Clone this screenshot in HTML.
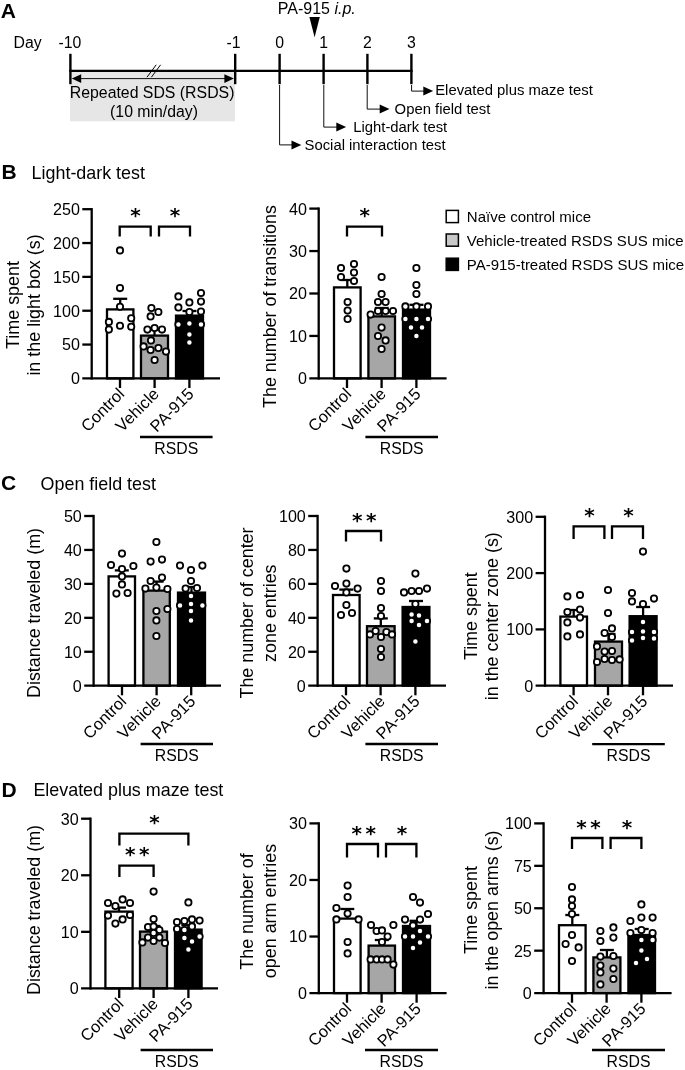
<!DOCTYPE html>
<html lang="en">
<head>
<meta charset="utf-8">
<title>PA-915 RSDS behavioural tests</title>
<style>
html,body{margin:0;padding:0;background:#fff;}
body{width:685px;height:1070px;overflow:hidden;}
svg{display:block;will-change:transform;}
svg text{font-family:"Liberation Sans", sans-serif;fill:#000;}
</style>
</head>
<body>
<svg width="685" height="1070" viewBox="0 0 685 1070">
<rect width="685" height="1070" fill="#fff"/>
<text x="0.70" y="17.70" font-size="21" font-weight="bold">A</text>
<text x="13.60" y="48.00" font-size="15.8">Day</text>
<rect x="70" y="71.5" width="165" height="49.8" fill="#e6e6e6"/>
<line x1="69.20" y1="70.90" x2="412.60" y2="70.90" stroke="#000" stroke-width="2.3" stroke-linecap="butt"/>
<line x1="70.40" y1="53.80" x2="70.40" y2="84.20" stroke="#000" stroke-width="2.4" stroke-linecap="butt"/>
<line x1="235.20" y1="53.80" x2="235.20" y2="84.20" stroke="#000" stroke-width="2.4" stroke-linecap="butt"/>
<line x1="279.60" y1="53.80" x2="279.60" y2="84.20" stroke="#000" stroke-width="2.4" stroke-linecap="butt"/>
<line x1="323.60" y1="53.80" x2="323.60" y2="84.20" stroke="#000" stroke-width="2.4" stroke-linecap="butt"/>
<line x1="367.40" y1="53.80" x2="367.40" y2="84.20" stroke="#000" stroke-width="2.4" stroke-linecap="butt"/>
<line x1="411.40" y1="53.80" x2="411.40" y2="84.20" stroke="#000" stroke-width="2.4" stroke-linecap="butt"/>
<text x="58.40" y="48.00" font-size="15.8">-10</text>
<text x="226.60" y="48.00" font-size="15.8">-1</text>
<text x="279.60" y="48.00" font-size="15.8" text-anchor="middle">0</text>
<text x="323.60" y="48.00" font-size="15.8" text-anchor="middle">1</text>
<text x="367.40" y="48.00" font-size="15.8" text-anchor="middle">2</text>
<text x="411.40" y="48.00" font-size="15.8" text-anchor="middle">3</text>
<line x1="75.00" y1="78.60" x2="230.00" y2="78.60" stroke="#000" stroke-width="0.95" stroke-linecap="butt"/>
<polygon points="71.8,78.6 81.2,74.2 81.2,83.0" fill="#000"/>
<polygon points="233.8,78.6 224.4,74.2 224.4,83.0" fill="#000"/>
<line x1="147.00" y1="77.20" x2="156.20" y2="64.80" stroke="#000" stroke-width="1.0" stroke-linecap="butt"/>
<line x1="151.40" y1="77.20" x2="160.60" y2="64.80" stroke="#000" stroke-width="1.0" stroke-linecap="butt"/>
<text x="152.10" y="98.20" font-size="15.85" text-anchor="middle">Repeated SDS (RSDS)</text>
<text x="154.00" y="117.00" font-size="15.8" text-anchor="middle">(10 min/day)</text>
<text x="277.80" y="13.60" font-size="16">PA-915 <tspan font-style="italic">i.p.</tspan></text>
<polygon points="309.4,17 319.8,17 314.6,37.2" fill="#000"/>
<polyline points="279.60,85.00 279.60,144.90 294.30,144.90" fill="none" stroke="#000" stroke-width="0.95" stroke-linejoin="miter"/>
<polygon points="301.30,144.90 291.50,140.40 291.50,149.40" fill="#000"/>
<text x="304.50" y="149.60" font-size="14.85">Social interaction test</text>
<polyline points="323.80,85.00 323.80,127.10 339.10,127.10" fill="none" stroke="#000" stroke-width="0.95" stroke-linejoin="miter"/>
<polygon points="346.10,127.10 336.30,122.60 336.30,131.60" fill="#000"/>
<text x="353.20" y="131.60" font-size="14.85">Light-dark test</text>
<polyline points="367.20,85.00 367.20,109.10 382.50,109.10" fill="none" stroke="#000" stroke-width="0.95" stroke-linejoin="miter"/>
<polygon points="389.50,109.10 379.70,104.60 379.70,113.60" fill="#000"/>
<text x="394.60" y="113.60" font-size="14.85">Open field test</text>
<polyline points="411.60,85.00 411.60,91.10 426.10,91.10" fill="none" stroke="#000" stroke-width="0.95" stroke-linejoin="miter"/>
<polygon points="433.10,91.10 423.30,86.60 423.30,95.60" fill="#000"/>
<text x="435.20" y="95.20" font-size="14.85">Elevated plus maze test</text>
<text x="1.40" y="179.00" font-size="21" font-weight="bold">B</text>
<text x="31.60" y="179.00" font-size="17.9">Light-dark test</text>
<rect x="107.00" y="309.40" width="26.40" height="69.00" fill="#fff" stroke="#000" stroke-width="2.3"/>
<rect x="141.00" y="335.60" width="27.00" height="42.80" fill="#a6a6a6" stroke="#000" stroke-width="2.3"/>
<rect x="176.00" y="315.60" width="27.00" height="62.80" fill="#000" stroke="#000" stroke-width="2.3"/>
<line x1="120.20" y1="309.40" x2="120.20" y2="298.80" stroke="#000" stroke-width="2.3" stroke-linecap="butt"/>
<line x1="113.20" y1="298.80" x2="127.20" y2="298.80" stroke="#000" stroke-width="2.3" stroke-linecap="butt"/>
<line x1="154.50" y1="335.60" x2="154.50" y2="329.60" stroke="#000" stroke-width="2.3" stroke-linecap="butt"/>
<line x1="147.50" y1="329.60" x2="161.50" y2="329.60" stroke="#000" stroke-width="2.3" stroke-linecap="butt"/>
<line x1="189.50" y1="315.60" x2="189.50" y2="311.00" stroke="#000" stroke-width="2.3" stroke-linecap="butt"/>
<line x1="182.50" y1="311.00" x2="196.50" y2="311.00" stroke="#000" stroke-width="2.3" stroke-linecap="butt"/>
<line x1="91.70" y1="208.05" x2="91.70" y2="379.55" stroke="#000" stroke-width="2.3" stroke-linecap="butt"/>
<line x1="82.30" y1="378.40" x2="220.00" y2="378.40" stroke="#000" stroke-width="2.3" stroke-linecap="butt"/>
<text x="79.90" y="384.30" font-size="16.1" text-anchor="end">0</text>
<line x1="82.30" y1="344.56" x2="91.70" y2="344.56" stroke="#000" stroke-width="2.3" stroke-linecap="butt"/>
<text x="79.90" y="350.46" font-size="16.1" text-anchor="end">50</text>
<line x1="82.30" y1="310.72" x2="91.70" y2="310.72" stroke="#000" stroke-width="2.3" stroke-linecap="butt"/>
<text x="79.90" y="316.62" font-size="16.1" text-anchor="end">100</text>
<line x1="82.30" y1="276.88" x2="91.70" y2="276.88" stroke="#000" stroke-width="2.3" stroke-linecap="butt"/>
<text x="79.90" y="282.78" font-size="16.1" text-anchor="end">150</text>
<line x1="82.30" y1="243.04" x2="91.70" y2="243.04" stroke="#000" stroke-width="2.3" stroke-linecap="butt"/>
<text x="79.90" y="248.94" font-size="16.1" text-anchor="end">200</text>
<line x1="82.30" y1="209.20" x2="91.70" y2="209.20" stroke="#000" stroke-width="2.3" stroke-linecap="butt"/>
<text x="79.90" y="215.10" font-size="16.1" text-anchor="end">250</text>
<line x1="120.00" y1="378.40" x2="120.00" y2="388.00" stroke="#000" stroke-width="2.3" stroke-linecap="butt"/>
<line x1="154.60" y1="378.40" x2="154.60" y2="388.00" stroke="#000" stroke-width="2.3" stroke-linecap="butt"/>
<line x1="189.40" y1="378.40" x2="189.40" y2="388.00" stroke="#000" stroke-width="2.3" stroke-linecap="butt"/>
<circle cx="120.00" cy="250.40" r="3.15" fill="#fff" stroke="#000" stroke-width="1.8"/>
<circle cx="120.00" cy="288.10" r="3.15" fill="#fff" stroke="#000" stroke-width="1.8"/>
<circle cx="120.00" cy="306.70" r="3.15" fill="#fff" stroke="#000" stroke-width="1.8"/>
<circle cx="108.90" cy="321.90" r="3.15" fill="#fff" stroke="#000" stroke-width="1.8"/>
<circle cx="131.20" cy="318.20" r="3.15" fill="#fff" stroke="#000" stroke-width="1.8"/>
<circle cx="108.90" cy="329.60" r="3.15" fill="#fff" stroke="#000" stroke-width="1.8"/>
<circle cx="120.00" cy="325.70" r="3.15" fill="#fff" stroke="#000" stroke-width="1.8"/>
<circle cx="131.20" cy="326.70" r="3.15" fill="#fff" stroke="#000" stroke-width="1.8"/>
<circle cx="151.40" cy="308.00" r="3.15" fill="#fff" stroke="#000" stroke-width="1.8"/>
<circle cx="158.40" cy="312.00" r="3.15" fill="#fff" stroke="#000" stroke-width="1.8"/>
<circle cx="150.60" cy="316.40" r="3.15" fill="#fff" stroke="#000" stroke-width="1.8"/>
<circle cx="147.40" cy="329.60" r="3.15" fill="#fff" stroke="#000" stroke-width="1.8"/>
<circle cx="154.60" cy="328.00" r="3.15" fill="#fff" stroke="#000" stroke-width="1.8"/>
<circle cx="162.00" cy="329.60" r="3.15" fill="#fff" stroke="#000" stroke-width="1.8"/>
<circle cx="151.00" cy="340.40" r="3.15" fill="#fff" stroke="#000" stroke-width="1.8"/>
<circle cx="143.60" cy="346.40" r="3.15" fill="#fff" stroke="#000" stroke-width="1.8"/>
<circle cx="150.60" cy="350.00" r="3.15" fill="#fff" stroke="#000" stroke-width="1.8"/>
<circle cx="158.40" cy="348.00" r="3.15" fill="#fff" stroke="#000" stroke-width="1.8"/>
<circle cx="166.00" cy="351.60" r="3.15" fill="#fff" stroke="#000" stroke-width="1.8"/>
<circle cx="154.60" cy="360.00" r="3.15" fill="#fff" stroke="#000" stroke-width="1.8"/>
<circle cx="178.40" cy="296.40" r="3.15" fill="#fff" stroke="#000" stroke-width="1.8"/>
<circle cx="201.00" cy="293.00" r="3.15" fill="#fff" stroke="#000" stroke-width="1.8"/>
<circle cx="189.40" cy="302.40" r="3.15" fill="#fff" stroke="#000" stroke-width="1.8"/>
<circle cx="201.00" cy="301.60" r="3.15" fill="#fff" stroke="#000" stroke-width="1.8"/>
<circle cx="178.40" cy="307.40" r="3.15" fill="#fff" stroke="#000" stroke-width="1.8"/>
<circle cx="189.40" cy="312.00" r="3.15" fill="#fff" stroke="#000" stroke-width="1.8"/>
<circle cx="201.00" cy="311.60" r="3.15" fill="#fff" stroke="#000" stroke-width="1.8"/>
<circle cx="178.40" cy="324.40" r="3.15" fill="#fff" stroke="#000" stroke-width="1.8"/>
<circle cx="189.40" cy="323.60" r="3.15" fill="#fff" stroke="#000" stroke-width="1.8"/>
<circle cx="201.00" cy="324.40" r="3.15" fill="#fff" stroke="#000" stroke-width="1.8"/>
<circle cx="189.40" cy="334.40" r="3.15" fill="#fff" stroke="#000" stroke-width="1.8"/>
<circle cx="189.40" cy="342.40" r="3.15" fill="#fff" stroke="#000" stroke-width="1.8"/>
<text x="125.40" y="395.00" font-size="16.5" text-anchor="end" transform="rotate(-45 125.40 395.00)">Control</text>
<text x="160.00" y="395.00" font-size="16.5" text-anchor="end" transform="rotate(-45 160.00 395.00)">Vehicle</text>
<text x="194.80" y="395.00" font-size="16.5" text-anchor="end" transform="rotate(-45 194.80 395.00)">PA-915</text>
<line x1="140.00" y1="437.00" x2="212.60" y2="437.00" stroke="#000" stroke-width="2.3" stroke-linecap="butt"/>
<text x="176.30" y="454.00" font-size="15.8" text-anchor="middle">RSDS</text>
<text x="18.80" y="305.00" font-size="17.9" text-anchor="middle" transform="rotate(-90 18.80 305.00)">Time spent</text>
<text x="39.60" y="305.00" font-size="17.9" text-anchor="middle" transform="rotate(-90 39.60 305.00)">in the light box (s)</text>
<polyline points="119.70,236.40 119.70,226.70 150.70,226.70 150.70,236.40" fill="none" stroke="#000" stroke-width="2.3" stroke-linejoin="miter"/>
<polyline points="159.00,236.40 159.00,226.70 190.00,226.70 190.00,236.40" fill="none" stroke="#000" stroke-width="2.3" stroke-linejoin="miter"/>
<text x="135.60" y="222.31" font-size="20" text-anchor="middle" style="font-family:'DejaVu Sans',sans-serif;font-weight:bold">*</text>
<text x="175.00" y="222.31" font-size="20" text-anchor="middle" style="font-family:'DejaVu Sans',sans-serif;font-weight:bold">*</text>
<rect x="334.00" y="287.40" width="26.60" height="91.00" fill="#fff" stroke="#000" stroke-width="2.3"/>
<rect x="368.40" y="316.40" width="26.60" height="62.00" fill="#a6a6a6" stroke="#000" stroke-width="2.3"/>
<rect x="403.00" y="309.60" width="27.00" height="68.80" fill="#000" stroke="#000" stroke-width="2.3"/>
<line x1="347.30" y1="287.40" x2="347.30" y2="280.00" stroke="#000" stroke-width="2.3" stroke-linecap="butt"/>
<line x1="340.30" y1="280.00" x2="354.30" y2="280.00" stroke="#000" stroke-width="2.3" stroke-linecap="butt"/>
<line x1="381.70" y1="316.40" x2="381.70" y2="308.00" stroke="#000" stroke-width="2.3" stroke-linecap="butt"/>
<line x1="374.70" y1="308.00" x2="388.70" y2="308.00" stroke="#000" stroke-width="2.3" stroke-linecap="butt"/>
<line x1="416.50" y1="309.60" x2="416.50" y2="304.80" stroke="#000" stroke-width="2.3" stroke-linecap="butt"/>
<line x1="409.50" y1="304.80" x2="423.50" y2="304.80" stroke="#000" stroke-width="2.3" stroke-linecap="butt"/>
<line x1="318.70" y1="207.45" x2="318.70" y2="379.55" stroke="#000" stroke-width="2.3" stroke-linecap="butt"/>
<line x1="309.30" y1="378.40" x2="446.60" y2="378.40" stroke="#000" stroke-width="2.3" stroke-linecap="butt"/>
<text x="306.90" y="384.30" font-size="16.1" text-anchor="end">0</text>
<line x1="309.30" y1="335.95" x2="318.70" y2="335.95" stroke="#000" stroke-width="2.3" stroke-linecap="butt"/>
<text x="306.90" y="341.85" font-size="16.1" text-anchor="end">10</text>
<line x1="309.30" y1="293.50" x2="318.70" y2="293.50" stroke="#000" stroke-width="2.3" stroke-linecap="butt"/>
<text x="306.90" y="299.40" font-size="16.1" text-anchor="end">20</text>
<line x1="309.30" y1="251.05" x2="318.70" y2="251.05" stroke="#000" stroke-width="2.3" stroke-linecap="butt"/>
<text x="306.90" y="256.95" font-size="16.1" text-anchor="end">30</text>
<line x1="309.30" y1="208.60" x2="318.70" y2="208.60" stroke="#000" stroke-width="2.3" stroke-linecap="butt"/>
<text x="306.90" y="214.50" font-size="16.1" text-anchor="end">40</text>
<line x1="347.00" y1="378.40" x2="347.00" y2="388.00" stroke="#000" stroke-width="2.3" stroke-linecap="butt"/>
<line x1="381.60" y1="378.40" x2="381.60" y2="388.00" stroke="#000" stroke-width="2.3" stroke-linecap="butt"/>
<line x1="416.40" y1="378.40" x2="416.40" y2="388.00" stroke="#000" stroke-width="2.3" stroke-linecap="butt"/>
<circle cx="341.00" cy="268.00" r="3.15" fill="#fff" stroke="#000" stroke-width="1.8"/>
<circle cx="354.00" cy="264.00" r="3.15" fill="#fff" stroke="#000" stroke-width="1.8"/>
<circle cx="354.00" cy="272.60" r="3.15" fill="#fff" stroke="#000" stroke-width="1.8"/>
<circle cx="341.00" cy="277.00" r="3.15" fill="#fff" stroke="#000" stroke-width="1.8"/>
<circle cx="354.00" cy="281.00" r="3.15" fill="#fff" stroke="#000" stroke-width="1.8"/>
<circle cx="347.60" cy="302.00" r="3.15" fill="#fff" stroke="#000" stroke-width="1.8"/>
<circle cx="347.60" cy="310.60" r="3.15" fill="#fff" stroke="#000" stroke-width="1.8"/>
<circle cx="347.60" cy="319.00" r="3.15" fill="#fff" stroke="#000" stroke-width="1.8"/>
<circle cx="381.60" cy="277.00" r="3.15" fill="#fff" stroke="#000" stroke-width="1.8"/>
<circle cx="381.60" cy="294.00" r="3.15" fill="#fff" stroke="#000" stroke-width="1.8"/>
<circle cx="378.00" cy="302.00" r="3.15" fill="#fff" stroke="#000" stroke-width="1.8"/>
<circle cx="385.60" cy="302.00" r="3.15" fill="#fff" stroke="#000" stroke-width="1.8"/>
<circle cx="378.00" cy="311.00" r="3.15" fill="#fff" stroke="#000" stroke-width="1.8"/>
<circle cx="385.60" cy="311.00" r="3.15" fill="#fff" stroke="#000" stroke-width="1.8"/>
<circle cx="370.60" cy="314.60" r="3.15" fill="#fff" stroke="#000" stroke-width="1.8"/>
<circle cx="393.00" cy="311.00" r="3.15" fill="#fff" stroke="#000" stroke-width="1.8"/>
<circle cx="381.60" cy="327.60" r="3.15" fill="#fff" stroke="#000" stroke-width="1.8"/>
<circle cx="378.00" cy="336.00" r="3.15" fill="#fff" stroke="#000" stroke-width="1.8"/>
<circle cx="385.60" cy="340.40" r="3.15" fill="#fff" stroke="#000" stroke-width="1.8"/>
<circle cx="381.60" cy="349.00" r="3.15" fill="#fff" stroke="#000" stroke-width="1.8"/>
<circle cx="416.40" cy="268.00" r="3.15" fill="#fff" stroke="#000" stroke-width="1.8"/>
<circle cx="416.40" cy="285.00" r="3.15" fill="#fff" stroke="#000" stroke-width="1.8"/>
<circle cx="416.40" cy="294.00" r="3.15" fill="#fff" stroke="#000" stroke-width="1.8"/>
<circle cx="405.40" cy="306.40" r="3.15" fill="#fff" stroke="#000" stroke-width="1.8"/>
<circle cx="416.40" cy="306.40" r="3.15" fill="#fff" stroke="#000" stroke-width="1.8"/>
<circle cx="428.00" cy="306.40" r="3.15" fill="#fff" stroke="#000" stroke-width="1.8"/>
<circle cx="405.40" cy="319.00" r="3.15" fill="#fff" stroke="#000" stroke-width="1.8"/>
<circle cx="416.40" cy="319.00" r="3.15" fill="#fff" stroke="#000" stroke-width="1.8"/>
<circle cx="428.00" cy="319.00" r="3.15" fill="#fff" stroke="#000" stroke-width="1.8"/>
<circle cx="411.00" cy="327.60" r="3.15" fill="#fff" stroke="#000" stroke-width="1.8"/>
<circle cx="422.00" cy="327.60" r="3.15" fill="#fff" stroke="#000" stroke-width="1.8"/>
<circle cx="416.40" cy="336.00" r="3.15" fill="#fff" stroke="#000" stroke-width="1.8"/>
<text x="352.40" y="395.00" font-size="16.5" text-anchor="end" transform="rotate(-45 352.40 395.00)">Control</text>
<text x="387.00" y="395.00" font-size="16.5" text-anchor="end" transform="rotate(-45 387.00 395.00)">Vehicle</text>
<text x="421.80" y="395.00" font-size="16.5" text-anchor="end" transform="rotate(-45 421.80 395.00)">PA-915</text>
<line x1="365.40" y1="437.00" x2="438.00" y2="437.00" stroke="#000" stroke-width="2.3" stroke-linecap="butt"/>
<text x="401.70" y="454.00" font-size="15.8" text-anchor="middle">RSDS</text>
<text x="276.40" y="306.50" font-size="17.9" text-anchor="middle" transform="rotate(-90 276.40 306.50)">The number of transitions</text>
<polyline points="347.00,236.40 347.00,226.70 382.00,226.70 382.00,236.40" fill="none" stroke="#000" stroke-width="2.3" stroke-linejoin="miter"/>
<text x="364.80" y="222.31" font-size="20" text-anchor="middle" style="font-family:'DejaVu Sans',sans-serif;font-weight:bold">*</text>
<rect x="446.2" y="210.4" width="12.2" height="12.2" fill="#fff" stroke="#000" stroke-width="1.5"/>
<rect x="446.2" y="234.0" width="12.2" height="12.2" fill="#c8c8c8" stroke="#000" stroke-width="1.5"/>
<rect x="446.2" y="258.2" width="12.2" height="12.2" fill="#000" stroke="#000" stroke-width="1.5"/>
<text x="466.80" y="222.40" font-size="15">Naïve control mice</text>
<text x="466.80" y="246.00" font-size="15">Vehicle-treated RSDS SUS mice</text>
<text x="466.80" y="270.20" font-size="15">PA-915-treated RSDS SUS mice</text>
<text x="1.00" y="489.60" font-size="21" font-weight="bold">C</text>
<text x="40.60" y="489.80" font-size="17.9">Open field test</text>
<rect x="108.60" y="576.40" width="26.40" height="109.30" fill="#fff" stroke="#000" stroke-width="2.3"/>
<rect x="143.40" y="590.60" width="26.40" height="95.10" fill="#a6a6a6" stroke="#000" stroke-width="2.3"/>
<rect x="178.00" y="592.60" width="27.00" height="93.10" fill="#000" stroke="#000" stroke-width="2.3"/>
<line x1="121.80" y1="576.40" x2="121.80" y2="570.40" stroke="#000" stroke-width="2.3" stroke-linecap="butt"/>
<line x1="114.80" y1="570.40" x2="128.80" y2="570.40" stroke="#000" stroke-width="2.3" stroke-linecap="butt"/>
<line x1="156.60" y1="590.60" x2="156.60" y2="581.60" stroke="#000" stroke-width="2.3" stroke-linecap="butt"/>
<line x1="149.60" y1="581.60" x2="163.60" y2="581.60" stroke="#000" stroke-width="2.3" stroke-linecap="butt"/>
<line x1="191.50" y1="592.60" x2="191.50" y2="587.00" stroke="#000" stroke-width="2.3" stroke-linecap="butt"/>
<line x1="184.50" y1="587.00" x2="198.50" y2="587.00" stroke="#000" stroke-width="2.3" stroke-linecap="butt"/>
<line x1="93.60" y1="514.85" x2="93.60" y2="686.85" stroke="#000" stroke-width="2.3" stroke-linecap="butt"/>
<line x1="84.20" y1="685.70" x2="221.00" y2="685.70" stroke="#000" stroke-width="2.3" stroke-linecap="butt"/>
<text x="81.80" y="691.60" font-size="16.1" text-anchor="end">0</text>
<line x1="84.20" y1="651.76" x2="93.60" y2="651.76" stroke="#000" stroke-width="2.3" stroke-linecap="butt"/>
<text x="81.80" y="657.66" font-size="16.1" text-anchor="end">10</text>
<line x1="84.20" y1="617.82" x2="93.60" y2="617.82" stroke="#000" stroke-width="2.3" stroke-linecap="butt"/>
<text x="81.80" y="623.72" font-size="16.1" text-anchor="end">20</text>
<line x1="84.20" y1="583.88" x2="93.60" y2="583.88" stroke="#000" stroke-width="2.3" stroke-linecap="butt"/>
<text x="81.80" y="589.78" font-size="16.1" text-anchor="end">30</text>
<line x1="84.20" y1="549.94" x2="93.60" y2="549.94" stroke="#000" stroke-width="2.3" stroke-linecap="butt"/>
<text x="81.80" y="555.84" font-size="16.1" text-anchor="end">40</text>
<line x1="84.20" y1="516.00" x2="93.60" y2="516.00" stroke="#000" stroke-width="2.3" stroke-linecap="butt"/>
<text x="81.80" y="521.90" font-size="16.1" text-anchor="end">50</text>
<line x1="122.00" y1="685.70" x2="122.00" y2="695.30" stroke="#000" stroke-width="2.3" stroke-linecap="butt"/>
<line x1="156.60" y1="685.70" x2="156.60" y2="695.30" stroke="#000" stroke-width="2.3" stroke-linecap="butt"/>
<line x1="191.20" y1="685.70" x2="191.20" y2="695.30" stroke="#000" stroke-width="2.3" stroke-linecap="butt"/>
<circle cx="122.00" cy="553.60" r="3.15" fill="#fff" stroke="#000" stroke-width="1.8"/>
<circle cx="111.00" cy="565.00" r="3.15" fill="#fff" stroke="#000" stroke-width="1.8"/>
<circle cx="133.40" cy="566.00" r="3.15" fill="#fff" stroke="#000" stroke-width="1.8"/>
<circle cx="122.00" cy="569.00" r="3.15" fill="#fff" stroke="#000" stroke-width="1.8"/>
<circle cx="122.00" cy="576.40" r="3.15" fill="#fff" stroke="#000" stroke-width="1.8"/>
<circle cx="122.00" cy="584.40" r="3.15" fill="#fff" stroke="#000" stroke-width="1.8"/>
<circle cx="116.40" cy="593.60" r="3.15" fill="#fff" stroke="#000" stroke-width="1.8"/>
<circle cx="127.60" cy="593.00" r="3.15" fill="#fff" stroke="#000" stroke-width="1.8"/>
<circle cx="156.40" cy="542.00" r="3.15" fill="#fff" stroke="#000" stroke-width="1.8"/>
<circle cx="150.60" cy="561.60" r="3.15" fill="#fff" stroke="#000" stroke-width="1.8"/>
<circle cx="162.00" cy="559.60" r="3.15" fill="#fff" stroke="#000" stroke-width="1.8"/>
<circle cx="150.60" cy="581.00" r="3.15" fill="#fff" stroke="#000" stroke-width="1.8"/>
<circle cx="162.00" cy="577.60" r="3.15" fill="#fff" stroke="#000" stroke-width="1.8"/>
<circle cx="145.40" cy="588.60" r="3.15" fill="#fff" stroke="#000" stroke-width="1.8"/>
<circle cx="156.40" cy="587.60" r="3.15" fill="#fff" stroke="#000" stroke-width="1.8"/>
<circle cx="167.40" cy="589.00" r="3.15" fill="#fff" stroke="#000" stroke-width="1.8"/>
<circle cx="167.40" cy="609.00" r="3.15" fill="#fff" stroke="#000" stroke-width="1.8"/>
<circle cx="156.40" cy="611.00" r="3.15" fill="#fff" stroke="#000" stroke-width="1.8"/>
<circle cx="156.40" cy="620.40" r="3.15" fill="#fff" stroke="#000" stroke-width="1.8"/>
<circle cx="156.40" cy="636.00" r="3.15" fill="#fff" stroke="#000" stroke-width="1.8"/>
<circle cx="180.00" cy="565.60" r="3.15" fill="#fff" stroke="#000" stroke-width="1.8"/>
<circle cx="202.40" cy="565.60" r="3.15" fill="#fff" stroke="#000" stroke-width="1.8"/>
<circle cx="191.00" cy="570.00" r="3.15" fill="#fff" stroke="#000" stroke-width="1.8"/>
<circle cx="191.00" cy="581.00" r="3.15" fill="#fff" stroke="#000" stroke-width="1.8"/>
<circle cx="185.60" cy="588.60" r="3.15" fill="#fff" stroke="#000" stroke-width="1.8"/>
<circle cx="197.00" cy="588.00" r="3.15" fill="#fff" stroke="#000" stroke-width="1.8"/>
<circle cx="191.00" cy="596.00" r="3.15" fill="#fff" stroke="#000" stroke-width="1.8"/>
<circle cx="180.00" cy="605.40" r="3.15" fill="#fff" stroke="#000" stroke-width="1.8"/>
<circle cx="191.00" cy="604.00" r="3.15" fill="#fff" stroke="#000" stroke-width="1.8"/>
<circle cx="202.40" cy="605.40" r="3.15" fill="#fff" stroke="#000" stroke-width="1.8"/>
<circle cx="191.00" cy="611.00" r="3.15" fill="#fff" stroke="#000" stroke-width="1.8"/>
<circle cx="191.00" cy="620.40" r="3.15" fill="#fff" stroke="#000" stroke-width="1.8"/>
<text x="127.40" y="702.30" font-size="16.5" text-anchor="end" transform="rotate(-45 127.40 702.30)">Control</text>
<text x="162.00" y="702.30" font-size="16.5" text-anchor="end" transform="rotate(-45 162.00 702.30)">Vehicle</text>
<text x="196.60" y="702.30" font-size="16.5" text-anchor="end" transform="rotate(-45 196.60 702.30)">PA-915</text>
<line x1="140.60" y1="744.00" x2="213.00" y2="744.00" stroke="#000" stroke-width="2.3" stroke-linecap="butt"/>
<text x="176.80" y="760.60" font-size="15.8" text-anchor="middle">RSDS</text>
<text x="40.00" y="613.00" font-size="17.9" text-anchor="middle" transform="rotate(-90 40.00 613.00)">Distance traveled (m)</text>
<rect x="333.00" y="595.00" width="26.60" height="90.70" fill="#fff" stroke="#000" stroke-width="2.3"/>
<rect x="367.00" y="626.20" width="27.60" height="59.50" fill="#a6a6a6" stroke="#000" stroke-width="2.3"/>
<rect x="402.60" y="607.00" width="26.80" height="78.70" fill="#000" stroke="#000" stroke-width="2.3"/>
<line x1="346.30" y1="595.00" x2="346.30" y2="589.60" stroke="#000" stroke-width="2.3" stroke-linecap="butt"/>
<line x1="339.30" y1="589.60" x2="353.30" y2="589.60" stroke="#000" stroke-width="2.3" stroke-linecap="butt"/>
<line x1="380.80" y1="626.20" x2="380.80" y2="618.40" stroke="#000" stroke-width="2.3" stroke-linecap="butt"/>
<line x1="373.80" y1="618.40" x2="387.80" y2="618.40" stroke="#000" stroke-width="2.3" stroke-linecap="butt"/>
<line x1="416.00" y1="607.00" x2="416.00" y2="601.00" stroke="#000" stroke-width="2.3" stroke-linecap="butt"/>
<line x1="409.00" y1="601.00" x2="423.00" y2="601.00" stroke="#000" stroke-width="2.3" stroke-linecap="butt"/>
<line x1="317.60" y1="514.85" x2="317.60" y2="686.85" stroke="#000" stroke-width="2.3" stroke-linecap="butt"/>
<line x1="308.20" y1="685.70" x2="446.00" y2="685.70" stroke="#000" stroke-width="2.3" stroke-linecap="butt"/>
<text x="305.80" y="691.60" font-size="16.1" text-anchor="end">0</text>
<line x1="308.20" y1="651.76" x2="317.60" y2="651.76" stroke="#000" stroke-width="2.3" stroke-linecap="butt"/>
<text x="305.80" y="657.66" font-size="16.1" text-anchor="end">20</text>
<line x1="308.20" y1="617.82" x2="317.60" y2="617.82" stroke="#000" stroke-width="2.3" stroke-linecap="butt"/>
<text x="305.80" y="623.72" font-size="16.1" text-anchor="end">40</text>
<line x1="308.20" y1="583.88" x2="317.60" y2="583.88" stroke="#000" stroke-width="2.3" stroke-linecap="butt"/>
<text x="305.80" y="589.78" font-size="16.1" text-anchor="end">60</text>
<line x1="308.20" y1="549.94" x2="317.60" y2="549.94" stroke="#000" stroke-width="2.3" stroke-linecap="butt"/>
<text x="305.80" y="555.84" font-size="16.1" text-anchor="end">80</text>
<line x1="308.20" y1="516.00" x2="317.60" y2="516.00" stroke="#000" stroke-width="2.3" stroke-linecap="butt"/>
<text x="305.80" y="521.90" font-size="16.1" text-anchor="end">100</text>
<line x1="346.00" y1="685.70" x2="346.00" y2="695.30" stroke="#000" stroke-width="2.3" stroke-linecap="butt"/>
<line x1="380.60" y1="685.70" x2="380.60" y2="695.30" stroke="#000" stroke-width="2.3" stroke-linecap="butt"/>
<line x1="415.40" y1="685.70" x2="415.40" y2="695.30" stroke="#000" stroke-width="2.3" stroke-linecap="butt"/>
<circle cx="346.40" cy="568.60" r="3.15" fill="#fff" stroke="#000" stroke-width="1.8"/>
<circle cx="335.00" cy="586.00" r="3.15" fill="#fff" stroke="#000" stroke-width="1.8"/>
<circle cx="346.40" cy="583.60" r="3.15" fill="#fff" stroke="#000" stroke-width="1.8"/>
<circle cx="357.60" cy="588.60" r="3.15" fill="#fff" stroke="#000" stroke-width="1.8"/>
<circle cx="346.40" cy="592.40" r="3.15" fill="#fff" stroke="#000" stroke-width="1.8"/>
<circle cx="346.40" cy="605.00" r="3.15" fill="#fff" stroke="#000" stroke-width="1.8"/>
<circle cx="341.00" cy="615.00" r="3.15" fill="#fff" stroke="#000" stroke-width="1.8"/>
<circle cx="352.00" cy="613.00" r="3.15" fill="#fff" stroke="#000" stroke-width="1.8"/>
<circle cx="381.00" cy="581.00" r="3.15" fill="#fff" stroke="#000" stroke-width="1.8"/>
<circle cx="381.00" cy="591.00" r="3.15" fill="#fff" stroke="#000" stroke-width="1.8"/>
<circle cx="381.00" cy="608.00" r="3.15" fill="#fff" stroke="#000" stroke-width="1.8"/>
<circle cx="381.00" cy="616.00" r="3.15" fill="#fff" stroke="#000" stroke-width="1.8"/>
<circle cx="370.00" cy="634.40" r="3.15" fill="#fff" stroke="#000" stroke-width="1.8"/>
<circle cx="375.60" cy="631.00" r="3.15" fill="#fff" stroke="#000" stroke-width="1.8"/>
<circle cx="381.00" cy="637.00" r="3.15" fill="#fff" stroke="#000" stroke-width="1.8"/>
<circle cx="386.40" cy="632.00" r="3.15" fill="#fff" stroke="#000" stroke-width="1.8"/>
<circle cx="392.00" cy="634.40" r="3.15" fill="#fff" stroke="#000" stroke-width="1.8"/>
<circle cx="381.00" cy="649.00" r="3.15" fill="#fff" stroke="#000" stroke-width="1.8"/>
<circle cx="381.00" cy="657.00" r="3.15" fill="#fff" stroke="#000" stroke-width="1.8"/>
<circle cx="415.40" cy="573.60" r="3.15" fill="#fff" stroke="#000" stroke-width="1.8"/>
<circle cx="404.00" cy="592.40" r="3.15" fill="#fff" stroke="#000" stroke-width="1.8"/>
<circle cx="411.60" cy="591.00" r="3.15" fill="#fff" stroke="#000" stroke-width="1.8"/>
<circle cx="419.00" cy="591.00" r="3.15" fill="#fff" stroke="#000" stroke-width="1.8"/>
<circle cx="427.00" cy="588.60" r="3.15" fill="#fff" stroke="#000" stroke-width="1.8"/>
<circle cx="415.40" cy="604.00" r="3.15" fill="#fff" stroke="#000" stroke-width="1.8"/>
<circle cx="411.60" cy="614.40" r="3.15" fill="#fff" stroke="#000" stroke-width="1.8"/>
<circle cx="419.00" cy="615.60" r="3.15" fill="#fff" stroke="#000" stroke-width="1.8"/>
<circle cx="411.60" cy="621.00" r="3.15" fill="#fff" stroke="#000" stroke-width="1.8"/>
<circle cx="427.00" cy="621.00" r="3.15" fill="#fff" stroke="#000" stroke-width="1.8"/>
<circle cx="419.00" cy="625.00" r="3.15" fill="#fff" stroke="#000" stroke-width="1.8"/>
<circle cx="415.40" cy="641.60" r="3.15" fill="#fff" stroke="#000" stroke-width="1.8"/>
<text x="351.40" y="702.30" font-size="16.5" text-anchor="end" transform="rotate(-45 351.40 702.30)">Control</text>
<text x="386.00" y="702.30" font-size="16.5" text-anchor="end" transform="rotate(-45 386.00 702.30)">Vehicle</text>
<text x="420.80" y="702.30" font-size="16.5" text-anchor="end" transform="rotate(-45 420.80 702.30)">PA-915</text>
<line x1="365.40" y1="744.00" x2="438.00" y2="744.00" stroke="#000" stroke-width="2.3" stroke-linecap="butt"/>
<text x="401.70" y="760.60" font-size="15.8" text-anchor="middle">RSDS</text>
<text x="253.00" y="613.00" font-size="17.9" text-anchor="middle" transform="rotate(-90 253.00 613.00)">The number of center</text>
<text x="275.60" y="613.20" font-size="17.9" text-anchor="middle" transform="rotate(-90 275.60 613.20)">zone entries</text>
<polyline points="346.00,541.60 346.00,531.00 381.00,531.00 381.00,541.60" fill="none" stroke="#000" stroke-width="2.3" stroke-linejoin="miter"/>
<text x="366.07" y="526.71" font-size="20" text-anchor="middle" style="font-family:'DejaVu Sans',sans-serif;font-weight:bold;letter-spacing:3.54px">**</text>
<rect x="560.40" y="616.60" width="26.60" height="69.10" fill="#fff" stroke="#000" stroke-width="2.3"/>
<rect x="595.00" y="641.60" width="27.00" height="44.10" fill="#a6a6a6" stroke="#000" stroke-width="2.3"/>
<rect x="629.60" y="616.20" width="27.00" height="69.50" fill="#000" stroke="#000" stroke-width="2.3"/>
<line x1="573.70" y1="616.60" x2="573.70" y2="610.00" stroke="#000" stroke-width="2.3" stroke-linecap="butt"/>
<line x1="566.70" y1="610.00" x2="580.70" y2="610.00" stroke="#000" stroke-width="2.3" stroke-linecap="butt"/>
<line x1="608.50" y1="641.60" x2="608.50" y2="634.00" stroke="#000" stroke-width="2.3" stroke-linecap="butt"/>
<line x1="601.50" y1="634.00" x2="615.50" y2="634.00" stroke="#000" stroke-width="2.3" stroke-linecap="butt"/>
<line x1="643.10" y1="616.20" x2="643.10" y2="607.00" stroke="#000" stroke-width="2.3" stroke-linecap="butt"/>
<line x1="636.10" y1="607.00" x2="650.10" y2="607.00" stroke="#000" stroke-width="2.3" stroke-linecap="butt"/>
<line x1="545.00" y1="515.65" x2="545.00" y2="686.85" stroke="#000" stroke-width="2.3" stroke-linecap="butt"/>
<line x1="535.60" y1="685.70" x2="673.00" y2="685.70" stroke="#000" stroke-width="2.3" stroke-linecap="butt"/>
<text x="533.20" y="691.60" font-size="16.1" text-anchor="end">0</text>
<line x1="535.60" y1="629.40" x2="545.00" y2="629.40" stroke="#000" stroke-width="2.3" stroke-linecap="butt"/>
<text x="533.20" y="635.30" font-size="16.1" text-anchor="end">100</text>
<line x1="535.60" y1="573.10" x2="545.00" y2="573.10" stroke="#000" stroke-width="2.3" stroke-linecap="butt"/>
<text x="533.20" y="579.00" font-size="16.1" text-anchor="end">200</text>
<line x1="535.60" y1="516.80" x2="545.00" y2="516.80" stroke="#000" stroke-width="2.3" stroke-linecap="butt"/>
<text x="533.20" y="522.70" font-size="16.1" text-anchor="end">300</text>
<line x1="573.60" y1="685.70" x2="573.60" y2="695.30" stroke="#000" stroke-width="2.3" stroke-linecap="butt"/>
<line x1="608.00" y1="685.70" x2="608.00" y2="695.30" stroke="#000" stroke-width="2.3" stroke-linecap="butt"/>
<line x1="643.00" y1="685.70" x2="643.00" y2="695.30" stroke="#000" stroke-width="2.3" stroke-linecap="butt"/>
<circle cx="567.40" cy="596.40" r="3.15" fill="#fff" stroke="#000" stroke-width="1.8"/>
<circle cx="580.00" cy="595.00" r="3.15" fill="#fff" stroke="#000" stroke-width="1.8"/>
<circle cx="567.40" cy="612.00" r="3.15" fill="#fff" stroke="#000" stroke-width="1.8"/>
<circle cx="580.00" cy="609.60" r="3.15" fill="#fff" stroke="#000" stroke-width="1.8"/>
<circle cx="580.00" cy="617.60" r="3.15" fill="#fff" stroke="#000" stroke-width="1.8"/>
<circle cx="567.40" cy="622.40" r="3.15" fill="#fff" stroke="#000" stroke-width="1.8"/>
<circle cx="567.40" cy="636.40" r="3.15" fill="#fff" stroke="#000" stroke-width="1.8"/>
<circle cx="580.00" cy="634.40" r="3.15" fill="#fff" stroke="#000" stroke-width="1.8"/>
<circle cx="608.00" cy="590.00" r="3.15" fill="#fff" stroke="#000" stroke-width="1.8"/>
<circle cx="608.00" cy="613.00" r="3.15" fill="#fff" stroke="#000" stroke-width="1.8"/>
<circle cx="612.00" cy="628.40" r="3.15" fill="#fff" stroke="#000" stroke-width="1.8"/>
<circle cx="604.60" cy="633.00" r="3.15" fill="#fff" stroke="#000" stroke-width="1.8"/>
<circle cx="612.00" cy="637.00" r="3.15" fill="#fff" stroke="#000" stroke-width="1.8"/>
<circle cx="597.00" cy="646.40" r="3.15" fill="#fff" stroke="#000" stroke-width="1.8"/>
<circle cx="604.60" cy="651.60" r="3.15" fill="#fff" stroke="#000" stroke-width="1.8"/>
<circle cx="612.00" cy="651.00" r="3.15" fill="#fff" stroke="#000" stroke-width="1.8"/>
<circle cx="597.00" cy="662.00" r="3.15" fill="#fff" stroke="#000" stroke-width="1.8"/>
<circle cx="604.60" cy="659.00" r="3.15" fill="#fff" stroke="#000" stroke-width="1.8"/>
<circle cx="612.00" cy="660.00" r="3.15" fill="#fff" stroke="#000" stroke-width="1.8"/>
<circle cx="619.60" cy="659.40" r="3.15" fill="#fff" stroke="#000" stroke-width="1.8"/>
<circle cx="643.00" cy="551.60" r="3.15" fill="#fff" stroke="#000" stroke-width="1.8"/>
<circle cx="632.00" cy="593.00" r="3.15" fill="#fff" stroke="#000" stroke-width="1.8"/>
<circle cx="632.00" cy="601.40" r="3.15" fill="#fff" stroke="#000" stroke-width="1.8"/>
<circle cx="654.00" cy="598.60" r="3.15" fill="#fff" stroke="#000" stroke-width="1.8"/>
<circle cx="643.00" cy="604.00" r="3.15" fill="#fff" stroke="#000" stroke-width="1.8"/>
<circle cx="643.00" cy="622.00" r="3.15" fill="#fff" stroke="#000" stroke-width="1.8"/>
<circle cx="632.00" cy="632.00" r="3.15" fill="#fff" stroke="#000" stroke-width="1.8"/>
<circle cx="643.00" cy="631.40" r="3.15" fill="#fff" stroke="#000" stroke-width="1.8"/>
<circle cx="654.00" cy="632.00" r="3.15" fill="#fff" stroke="#000" stroke-width="1.8"/>
<circle cx="632.00" cy="640.60" r="3.15" fill="#fff" stroke="#000" stroke-width="1.8"/>
<circle cx="643.00" cy="638.00" r="3.15" fill="#fff" stroke="#000" stroke-width="1.8"/>
<circle cx="654.00" cy="638.60" r="3.15" fill="#fff" stroke="#000" stroke-width="1.8"/>
<text x="579.00" y="702.30" font-size="16.5" text-anchor="end" transform="rotate(-45 579.00 702.30)">Control</text>
<text x="613.40" y="702.30" font-size="16.5" text-anchor="end" transform="rotate(-45 613.40 702.30)">Vehicle</text>
<text x="648.40" y="702.30" font-size="16.5" text-anchor="end" transform="rotate(-45 648.40 702.30)">PA-915</text>
<line x1="592.20" y1="744.20" x2="664.80" y2="744.20" stroke="#000" stroke-width="2.3" stroke-linecap="butt"/>
<text x="628.50" y="760.60" font-size="15.8" text-anchor="middle">RSDS</text>
<text x="477.00" y="616.20" font-size="17.9" text-anchor="middle" transform="rotate(-90 477.00 616.20)">Time spent</text>
<text x="498.00" y="616.20" font-size="17.9" text-anchor="middle" transform="rotate(-90 498.00 616.20)">in the center zone (s)</text>
<polyline points="573.60,539.00 573.60,526.40 604.40,526.40 604.40,539.00" fill="none" stroke="#000" stroke-width="2.3" stroke-linejoin="miter"/>
<polyline points="612.00,539.00 612.00,526.40 643.00,526.40 643.00,539.00" fill="none" stroke="#000" stroke-width="2.3" stroke-linejoin="miter"/>
<text x="589.40" y="522.11" font-size="20" text-anchor="middle" style="font-family:'DejaVu Sans',sans-serif;font-weight:bold">*</text>
<text x="628.40" y="522.11" font-size="20" text-anchor="middle" style="font-family:'DejaVu Sans',sans-serif;font-weight:bold">*</text>
<text x="1.60" y="796.60" font-size="21" font-weight="bold">D</text>
<text x="33.40" y="796.20" font-size="17.9">Elevated plus maze test</text>
<rect x="105.40" y="911.60" width="27.20" height="76.80" fill="#fff" stroke="#000" stroke-width="2.3"/>
<rect x="140.00" y="931.60" width="27.00" height="56.80" fill="#a6a6a6" stroke="#000" stroke-width="2.3"/>
<rect x="175.00" y="929.60" width="26.60" height="58.80" fill="#000" stroke="#000" stroke-width="2.3"/>
<line x1="119.00" y1="911.60" x2="119.00" y2="907.60" stroke="#000" stroke-width="2.3" stroke-linecap="butt"/>
<line x1="112.00" y1="907.60" x2="126.00" y2="907.60" stroke="#000" stroke-width="2.3" stroke-linecap="butt"/>
<line x1="153.50" y1="931.60" x2="153.50" y2="926.00" stroke="#000" stroke-width="2.3" stroke-linecap="butt"/>
<line x1="146.50" y1="926.00" x2="160.50" y2="926.00" stroke="#000" stroke-width="2.3" stroke-linecap="butt"/>
<line x1="188.30" y1="929.60" x2="188.30" y2="925.20" stroke="#000" stroke-width="2.3" stroke-linecap="butt"/>
<line x1="181.30" y1="925.20" x2="195.30" y2="925.20" stroke="#000" stroke-width="2.3" stroke-linecap="butt"/>
<line x1="90.50" y1="817.55" x2="90.50" y2="989.55" stroke="#000" stroke-width="2.3" stroke-linecap="butt"/>
<line x1="81.10" y1="988.40" x2="218.00" y2="988.40" stroke="#000" stroke-width="2.3" stroke-linecap="butt"/>
<text x="78.70" y="994.30" font-size="16.1" text-anchor="end">0</text>
<line x1="81.10" y1="931.83" x2="90.50" y2="931.83" stroke="#000" stroke-width="2.3" stroke-linecap="butt"/>
<text x="78.70" y="937.73" font-size="16.1" text-anchor="end">10</text>
<line x1="81.10" y1="875.27" x2="90.50" y2="875.27" stroke="#000" stroke-width="2.3" stroke-linecap="butt"/>
<text x="78.70" y="881.17" font-size="16.1" text-anchor="end">20</text>
<line x1="81.10" y1="818.70" x2="90.50" y2="818.70" stroke="#000" stroke-width="2.3" stroke-linecap="butt"/>
<text x="78.70" y="824.60" font-size="16.1" text-anchor="end">30</text>
<line x1="119.20" y1="988.40" x2="119.20" y2="998.00" stroke="#000" stroke-width="2.3" stroke-linecap="butt"/>
<line x1="153.60" y1="988.40" x2="153.60" y2="998.00" stroke="#000" stroke-width="2.3" stroke-linecap="butt"/>
<line x1="188.40" y1="988.40" x2="188.40" y2="998.00" stroke="#000" stroke-width="2.3" stroke-linecap="butt"/>
<circle cx="108.00" cy="903.00" r="3.15" fill="#fff" stroke="#000" stroke-width="1.8"/>
<circle cx="115.40" cy="906.00" r="3.15" fill="#fff" stroke="#000" stroke-width="1.8"/>
<circle cx="122.60" cy="899.40" r="3.15" fill="#fff" stroke="#000" stroke-width="1.8"/>
<circle cx="130.00" cy="903.00" r="3.15" fill="#fff" stroke="#000" stroke-width="1.8"/>
<circle cx="108.00" cy="915.60" r="3.15" fill="#fff" stroke="#000" stroke-width="1.8"/>
<circle cx="115.40" cy="923.60" r="3.15" fill="#fff" stroke="#000" stroke-width="1.8"/>
<circle cx="122.60" cy="919.40" r="3.15" fill="#fff" stroke="#000" stroke-width="1.8"/>
<circle cx="130.00" cy="915.00" r="3.15" fill="#fff" stroke="#000" stroke-width="1.8"/>
<circle cx="153.60" cy="891.60" r="3.15" fill="#fff" stroke="#000" stroke-width="1.8"/>
<circle cx="153.60" cy="919.00" r="3.15" fill="#fff" stroke="#000" stroke-width="1.8"/>
<circle cx="148.00" cy="927.00" r="3.15" fill="#fff" stroke="#000" stroke-width="1.8"/>
<circle cx="153.60" cy="926.40" r="3.15" fill="#fff" stroke="#000" stroke-width="1.8"/>
<circle cx="159.40" cy="930.00" r="3.15" fill="#fff" stroke="#000" stroke-width="1.8"/>
<circle cx="153.60" cy="933.00" r="3.15" fill="#fff" stroke="#000" stroke-width="1.8"/>
<circle cx="148.00" cy="937.60" r="3.15" fill="#fff" stroke="#000" stroke-width="1.8"/>
<circle cx="159.40" cy="937.60" r="3.15" fill="#fff" stroke="#000" stroke-width="1.8"/>
<circle cx="142.40" cy="942.40" r="3.15" fill="#fff" stroke="#000" stroke-width="1.8"/>
<circle cx="153.60" cy="941.00" r="3.15" fill="#fff" stroke="#000" stroke-width="1.8"/>
<circle cx="165.00" cy="943.00" r="3.15" fill="#fff" stroke="#000" stroke-width="1.8"/>
<circle cx="188.40" cy="902.40" r="3.15" fill="#fff" stroke="#000" stroke-width="1.8"/>
<circle cx="177.00" cy="922.00" r="3.15" fill="#fff" stroke="#000" stroke-width="1.8"/>
<circle cx="184.40" cy="921.00" r="3.15" fill="#fff" stroke="#000" stroke-width="1.8"/>
<circle cx="192.00" cy="919.40" r="3.15" fill="#fff" stroke="#000" stroke-width="1.8"/>
<circle cx="199.60" cy="920.60" r="3.15" fill="#fff" stroke="#000" stroke-width="1.8"/>
<circle cx="177.00" cy="929.00" r="3.15" fill="#fff" stroke="#000" stroke-width="1.8"/>
<circle cx="184.40" cy="930.00" r="3.15" fill="#fff" stroke="#000" stroke-width="1.8"/>
<circle cx="192.00" cy="926.40" r="3.15" fill="#fff" stroke="#000" stroke-width="1.8"/>
<circle cx="199.60" cy="936.60" r="3.15" fill="#fff" stroke="#000" stroke-width="1.8"/>
<circle cx="184.40" cy="938.00" r="3.15" fill="#fff" stroke="#000" stroke-width="1.8"/>
<circle cx="192.00" cy="941.40" r="3.15" fill="#fff" stroke="#000" stroke-width="1.8"/>
<circle cx="188.40" cy="949.60" r="3.15" fill="#fff" stroke="#000" stroke-width="1.8"/>
<text x="124.60" y="1005.00" font-size="16.5" text-anchor="end" transform="rotate(-45 124.60 1005.00)">Control</text>
<text x="159.00" y="1005.00" font-size="16.5" text-anchor="end" transform="rotate(-45 159.00 1005.00)">Vehicle</text>
<text x="193.80" y="1005.00" font-size="16.5" text-anchor="end" transform="rotate(-45 193.80 1005.00)">PA-915</text>
<line x1="140.60" y1="1050.00" x2="213.00" y2="1050.00" stroke="#000" stroke-width="2.3" stroke-linecap="butt"/>
<text x="176.80" y="1067.00" font-size="15.8" text-anchor="middle">RSDS</text>
<text x="40.00" y="910.00" font-size="17.9" text-anchor="middle" transform="rotate(-90 40.00 910.00)">Distance traveled (m)</text>
<polyline points="119.40,845.60 119.40,833.60 188.40,833.60 188.40,845.60" fill="none" stroke="#000" stroke-width="2.3" stroke-linejoin="miter"/>
<polyline points="119.40,877.00 119.40,865.60 153.60,865.60 153.60,877.00" fill="none" stroke="#000" stroke-width="2.3" stroke-linejoin="miter"/>
<text x="154.40" y="829.31" font-size="20" text-anchor="middle" style="font-family:'DejaVu Sans',sans-serif;font-weight:bold">*</text>
<text x="138.97" y="861.31" font-size="20" text-anchor="middle" style="font-family:'DejaVu Sans',sans-serif;font-weight:bold;letter-spacing:3.54px">**</text>
<rect x="334.00" y="918.60" width="26.60" height="74.50" fill="#fff" stroke="#000" stroke-width="2.3"/>
<rect x="368.60" y="945.60" width="26.40" height="47.50" fill="#a6a6a6" stroke="#000" stroke-width="2.3"/>
<rect x="403.00" y="926.00" width="27.00" height="67.10" fill="#000" stroke="#000" stroke-width="2.3"/>
<line x1="347.30" y1="918.60" x2="347.30" y2="909.00" stroke="#000" stroke-width="2.3" stroke-linecap="butt"/>
<line x1="340.30" y1="909.00" x2="354.30" y2="909.00" stroke="#000" stroke-width="2.3" stroke-linecap="butt"/>
<line x1="381.80" y1="945.60" x2="381.80" y2="940.00" stroke="#000" stroke-width="2.3" stroke-linecap="butt"/>
<line x1="374.80" y1="940.00" x2="388.80" y2="940.00" stroke="#000" stroke-width="2.3" stroke-linecap="butt"/>
<line x1="416.50" y1="926.00" x2="416.50" y2="920.80" stroke="#000" stroke-width="2.3" stroke-linecap="butt"/>
<line x1="409.50" y1="920.80" x2="423.50" y2="920.80" stroke="#000" stroke-width="2.3" stroke-linecap="butt"/>
<line x1="318.80" y1="822.25" x2="318.80" y2="994.25" stroke="#000" stroke-width="2.3" stroke-linecap="butt"/>
<line x1="309.40" y1="993.10" x2="446.60" y2="993.10" stroke="#000" stroke-width="2.3" stroke-linecap="butt"/>
<text x="307.00" y="999.00" font-size="16.1" text-anchor="end">0</text>
<line x1="309.40" y1="936.53" x2="318.80" y2="936.53" stroke="#000" stroke-width="2.3" stroke-linecap="butt"/>
<text x="307.00" y="942.43" font-size="16.1" text-anchor="end">10</text>
<line x1="309.40" y1="879.97" x2="318.80" y2="879.97" stroke="#000" stroke-width="2.3" stroke-linecap="butt"/>
<text x="307.00" y="885.87" font-size="16.1" text-anchor="end">20</text>
<line x1="309.40" y1="823.40" x2="318.80" y2="823.40" stroke="#000" stroke-width="2.3" stroke-linecap="butt"/>
<text x="307.00" y="829.30" font-size="16.1" text-anchor="end">30</text>
<line x1="347.00" y1="993.10" x2="347.00" y2="1002.70" stroke="#000" stroke-width="2.3" stroke-linecap="butt"/>
<line x1="381.60" y1="993.10" x2="381.60" y2="1002.70" stroke="#000" stroke-width="2.3" stroke-linecap="butt"/>
<line x1="416.60" y1="993.10" x2="416.60" y2="1002.70" stroke="#000" stroke-width="2.3" stroke-linecap="butt"/>
<circle cx="347.60" cy="885.60" r="3.15" fill="#fff" stroke="#000" stroke-width="1.8"/>
<circle cx="347.60" cy="897.00" r="3.15" fill="#fff" stroke="#000" stroke-width="1.8"/>
<circle cx="336.40" cy="908.00" r="3.15" fill="#fff" stroke="#000" stroke-width="1.8"/>
<circle cx="347.60" cy="913.60" r="3.15" fill="#fff" stroke="#000" stroke-width="1.8"/>
<circle cx="336.40" cy="919.40" r="3.15" fill="#fff" stroke="#000" stroke-width="1.8"/>
<circle cx="358.60" cy="919.40" r="3.15" fill="#fff" stroke="#000" stroke-width="1.8"/>
<circle cx="347.60" cy="942.00" r="3.15" fill="#fff" stroke="#000" stroke-width="1.8"/>
<circle cx="347.60" cy="953.40" r="3.15" fill="#fff" stroke="#000" stroke-width="1.8"/>
<circle cx="371.00" cy="925.00" r="3.15" fill="#fff" stroke="#000" stroke-width="1.8"/>
<circle cx="393.40" cy="925.00" r="3.15" fill="#fff" stroke="#000" stroke-width="1.8"/>
<circle cx="376.60" cy="931.00" r="3.15" fill="#fff" stroke="#000" stroke-width="1.8"/>
<circle cx="382.00" cy="930.40" r="3.15" fill="#fff" stroke="#000" stroke-width="1.8"/>
<circle cx="387.60" cy="936.60" r="3.15" fill="#fff" stroke="#000" stroke-width="1.8"/>
<circle cx="382.00" cy="942.00" r="3.15" fill="#fff" stroke="#000" stroke-width="1.8"/>
<circle cx="370.60" cy="959.40" r="3.15" fill="#fff" stroke="#000" stroke-width="1.8"/>
<circle cx="376.60" cy="959.40" r="3.15" fill="#fff" stroke="#000" stroke-width="1.8"/>
<circle cx="382.00" cy="959.40" r="3.15" fill="#fff" stroke="#000" stroke-width="1.8"/>
<circle cx="387.60" cy="959.40" r="3.15" fill="#fff" stroke="#000" stroke-width="1.8"/>
<circle cx="393.40" cy="964.60" r="3.15" fill="#fff" stroke="#000" stroke-width="1.8"/>
<circle cx="413.00" cy="897.00" r="3.15" fill="#fff" stroke="#000" stroke-width="1.8"/>
<circle cx="420.00" cy="902.60" r="3.15" fill="#fff" stroke="#000" stroke-width="1.8"/>
<circle cx="428.00" cy="914.00" r="3.15" fill="#fff" stroke="#000" stroke-width="1.8"/>
<circle cx="405.00" cy="919.60" r="3.15" fill="#fff" stroke="#000" stroke-width="1.8"/>
<circle cx="420.00" cy="919.60" r="3.15" fill="#fff" stroke="#000" stroke-width="1.8"/>
<circle cx="413.00" cy="925.40" r="3.15" fill="#fff" stroke="#000" stroke-width="1.8"/>
<circle cx="405.00" cy="936.60" r="3.15" fill="#fff" stroke="#000" stroke-width="1.8"/>
<circle cx="413.00" cy="936.60" r="3.15" fill="#fff" stroke="#000" stroke-width="1.8"/>
<circle cx="420.00" cy="931.00" r="3.15" fill="#fff" stroke="#000" stroke-width="1.8"/>
<circle cx="428.00" cy="936.60" r="3.15" fill="#fff" stroke="#000" stroke-width="1.8"/>
<circle cx="420.00" cy="942.40" r="3.15" fill="#fff" stroke="#000" stroke-width="1.8"/>
<circle cx="413.00" cy="948.00" r="3.15" fill="#fff" stroke="#000" stroke-width="1.8"/>
<text x="352.40" y="1009.70" font-size="16.5" text-anchor="end" transform="rotate(-45 352.40 1009.70)">Control</text>
<text x="387.00" y="1009.70" font-size="16.5" text-anchor="end" transform="rotate(-45 387.00 1009.70)">Vehicle</text>
<text x="422.00" y="1009.70" font-size="16.5" text-anchor="end" transform="rotate(-45 422.00 1009.70)">PA-915</text>
<line x1="365.00" y1="1050.00" x2="438.00" y2="1050.00" stroke="#000" stroke-width="2.3" stroke-linecap="butt"/>
<text x="401.50" y="1067.00" font-size="15.8" text-anchor="middle">RSDS</text>
<text x="253.00" y="911.50" font-size="17.9" text-anchor="middle" transform="rotate(-90 253.00 911.50)">The number of</text>
<text x="276.00" y="911.00" font-size="17.9" text-anchor="middle" transform="rotate(-90 276.00 911.00)">open arm entries</text>
<polyline points="347.00,857.60 347.00,844.00 378.00,844.00 378.00,857.60" fill="none" stroke="#000" stroke-width="2.3" stroke-linejoin="miter"/>
<polyline points="386.00,857.60 386.00,844.00 416.40,844.00 416.40,857.60" fill="none" stroke="#000" stroke-width="2.3" stroke-linejoin="miter"/>
<text x="365.57" y="839.71" font-size="20" text-anchor="middle" style="font-family:'DejaVu Sans',sans-serif;font-weight:bold;letter-spacing:3.54px">**</text>
<text x="402.00" y="839.71" font-size="20" text-anchor="middle" style="font-family:'DejaVu Sans',sans-serif;font-weight:bold">*</text>
<rect x="559.00" y="925.20" width="26.60" height="67.90" fill="#fff" stroke="#000" stroke-width="2.3"/>
<rect x="593.40" y="957.40" width="27.00" height="35.70" fill="#a6a6a6" stroke="#000" stroke-width="2.3"/>
<rect x="628.40" y="935.00" width="26.60" height="58.10" fill="#000" stroke="#000" stroke-width="2.3"/>
<line x1="572.30" y1="925.20" x2="572.30" y2="915.00" stroke="#000" stroke-width="2.3" stroke-linecap="butt"/>
<line x1="565.30" y1="915.00" x2="579.30" y2="915.00" stroke="#000" stroke-width="2.3" stroke-linecap="butt"/>
<line x1="606.90" y1="957.40" x2="606.90" y2="950.00" stroke="#000" stroke-width="2.3" stroke-linecap="butt"/>
<line x1="599.90" y1="950.00" x2="613.90" y2="950.00" stroke="#000" stroke-width="2.3" stroke-linecap="butt"/>
<line x1="641.70" y1="935.00" x2="641.70" y2="929.00" stroke="#000" stroke-width="2.3" stroke-linecap="butt"/>
<line x1="634.70" y1="929.00" x2="648.70" y2="929.00" stroke="#000" stroke-width="2.3" stroke-linecap="butt"/>
<line x1="543.60" y1="822.25" x2="543.60" y2="994.25" stroke="#000" stroke-width="2.3" stroke-linecap="butt"/>
<line x1="534.20" y1="993.10" x2="671.60" y2="993.10" stroke="#000" stroke-width="2.3" stroke-linecap="butt"/>
<text x="531.80" y="999.00" font-size="16.1" text-anchor="end">0</text>
<line x1="534.20" y1="950.67" x2="543.60" y2="950.67" stroke="#000" stroke-width="2.3" stroke-linecap="butt"/>
<text x="531.80" y="956.57" font-size="16.1" text-anchor="end">25</text>
<line x1="534.20" y1="908.25" x2="543.60" y2="908.25" stroke="#000" stroke-width="2.3" stroke-linecap="butt"/>
<text x="531.80" y="914.15" font-size="16.1" text-anchor="end">50</text>
<line x1="534.20" y1="865.83" x2="543.60" y2="865.83" stroke="#000" stroke-width="2.3" stroke-linecap="butt"/>
<text x="531.80" y="871.73" font-size="16.1" text-anchor="end">75</text>
<line x1="534.20" y1="823.40" x2="543.60" y2="823.40" stroke="#000" stroke-width="2.3" stroke-linecap="butt"/>
<text x="531.80" y="829.30" font-size="16.1" text-anchor="end">100</text>
<line x1="572.00" y1="993.10" x2="572.00" y2="1002.70" stroke="#000" stroke-width="2.3" stroke-linecap="butt"/>
<line x1="606.60" y1="993.10" x2="606.60" y2="1002.70" stroke="#000" stroke-width="2.3" stroke-linecap="butt"/>
<line x1="641.40" y1="993.10" x2="641.40" y2="1002.70" stroke="#000" stroke-width="2.3" stroke-linecap="butt"/>
<circle cx="572.00" cy="887.00" r="3.15" fill="#fff" stroke="#000" stroke-width="1.8"/>
<circle cx="572.00" cy="899.40" r="3.15" fill="#fff" stroke="#000" stroke-width="1.8"/>
<circle cx="572.00" cy="906.00" r="3.15" fill="#fff" stroke="#000" stroke-width="1.8"/>
<circle cx="572.00" cy="914.00" r="3.15" fill="#fff" stroke="#000" stroke-width="1.8"/>
<circle cx="572.00" cy="935.00" r="3.15" fill="#fff" stroke="#000" stroke-width="1.8"/>
<circle cx="565.60" cy="944.00" r="3.15" fill="#fff" stroke="#000" stroke-width="1.8"/>
<circle cx="578.60" cy="947.40" r="3.15" fill="#fff" stroke="#000" stroke-width="1.8"/>
<circle cx="572.00" cy="961.00" r="3.15" fill="#fff" stroke="#000" stroke-width="1.8"/>
<circle cx="613.40" cy="927.40" r="3.15" fill="#fff" stroke="#000" stroke-width="1.8"/>
<circle cx="600.40" cy="931.00" r="3.15" fill="#fff" stroke="#000" stroke-width="1.8"/>
<circle cx="613.40" cy="937.60" r="3.15" fill="#fff" stroke="#000" stroke-width="1.8"/>
<circle cx="600.40" cy="941.00" r="3.15" fill="#fff" stroke="#000" stroke-width="1.8"/>
<circle cx="600.40" cy="956.60" r="3.15" fill="#fff" stroke="#000" stroke-width="1.8"/>
<circle cx="613.40" cy="956.00" r="3.15" fill="#fff" stroke="#000" stroke-width="1.8"/>
<circle cx="600.40" cy="965.60" r="3.15" fill="#fff" stroke="#000" stroke-width="1.8"/>
<circle cx="613.40" cy="968.60" r="3.15" fill="#fff" stroke="#000" stroke-width="1.8"/>
<circle cx="600.40" cy="972.40" r="3.15" fill="#fff" stroke="#000" stroke-width="1.8"/>
<circle cx="613.40" cy="979.00" r="3.15" fill="#fff" stroke="#000" stroke-width="1.8"/>
<circle cx="600.40" cy="984.40" r="3.15" fill="#fff" stroke="#000" stroke-width="1.8"/>
<circle cx="641.40" cy="904.40" r="3.15" fill="#fff" stroke="#000" stroke-width="1.8"/>
<circle cx="630.40" cy="921.00" r="3.15" fill="#fff" stroke="#000" stroke-width="1.8"/>
<circle cx="641.40" cy="917.60" r="3.15" fill="#fff" stroke="#000" stroke-width="1.8"/>
<circle cx="652.60" cy="917.60" r="3.15" fill="#fff" stroke="#000" stroke-width="1.8"/>
<circle cx="641.40" cy="930.00" r="3.15" fill="#fff" stroke="#000" stroke-width="1.8"/>
<circle cx="630.40" cy="933.00" r="3.15" fill="#fff" stroke="#000" stroke-width="1.8"/>
<circle cx="652.60" cy="933.00" r="3.15" fill="#fff" stroke="#000" stroke-width="1.8"/>
<circle cx="641.40" cy="940.00" r="3.15" fill="#fff" stroke="#000" stroke-width="1.8"/>
<circle cx="652.60" cy="940.00" r="3.15" fill="#fff" stroke="#000" stroke-width="1.8"/>
<circle cx="641.40" cy="950.40" r="3.15" fill="#fff" stroke="#000" stroke-width="1.8"/>
<circle cx="647.00" cy="959.00" r="3.15" fill="#fff" stroke="#000" stroke-width="1.8"/>
<circle cx="636.00" cy="963.00" r="3.15" fill="#fff" stroke="#000" stroke-width="1.8"/>
<text x="577.40" y="1009.70" font-size="16.5" text-anchor="end" transform="rotate(-45 577.40 1009.70)">Control</text>
<text x="612.00" y="1009.70" font-size="16.5" text-anchor="end" transform="rotate(-45 612.00 1009.70)">Vehicle</text>
<text x="646.80" y="1009.70" font-size="16.5" text-anchor="end" transform="rotate(-45 646.80 1009.70)">PA-915</text>
<line x1="592.00" y1="1050.00" x2="665.00" y2="1050.00" stroke="#000" stroke-width="2.3" stroke-linecap="butt"/>
<text x="628.50" y="1067.00" font-size="15.8" text-anchor="middle">RSDS</text>
<text x="477.00" y="910.00" font-size="17.9" text-anchor="middle" transform="rotate(-90 477.00 910.00)">Time spent</text>
<text x="498.40" y="910.00" font-size="17.9" text-anchor="middle" transform="rotate(-90 498.40 910.00)">in the open arms (s)</text>
<polyline points="572.00,849.00 572.00,838.00 602.40,838.00 602.40,849.00" fill="none" stroke="#000" stroke-width="2.3" stroke-linejoin="miter"/>
<polyline points="610.60,849.00 610.60,838.00 641.40,838.00 641.40,849.00" fill="none" stroke="#000" stroke-width="2.3" stroke-linejoin="miter"/>
<text x="590.17" y="833.71" font-size="20" text-anchor="middle" style="font-family:'DejaVu Sans',sans-serif;font-weight:bold;letter-spacing:3.54px">**</text>
<text x="627.00" y="833.71" font-size="20" text-anchor="middle" style="font-family:'DejaVu Sans',sans-serif;font-weight:bold">*</text>
</svg>
</body>
</html>
